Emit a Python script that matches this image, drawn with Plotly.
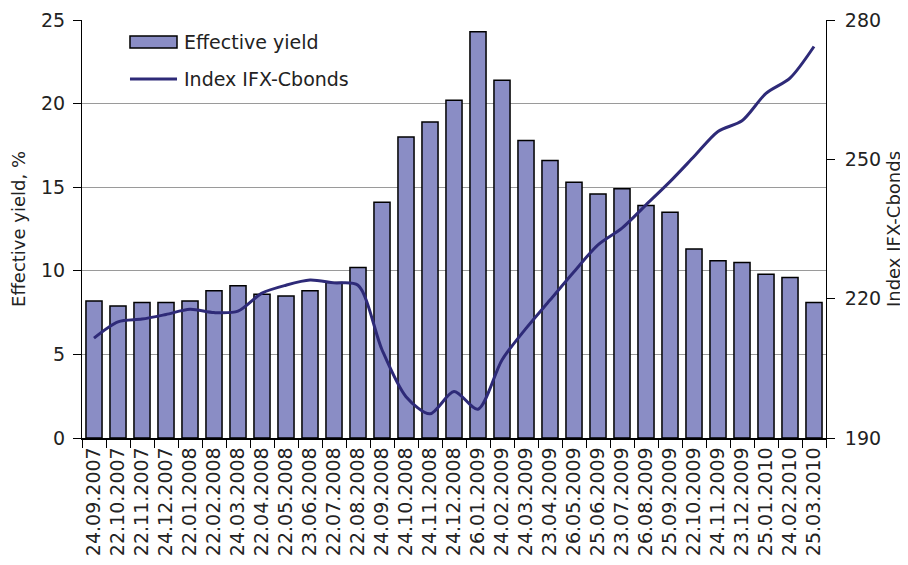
import plotly.graph_objects as go

dates = ["24.09.2007","22.10.2007","22.11.2007","24.12.2007","22.01.2008","22.02.2008",
         "24.03.2008","22.04.2008","22.05.2008","23.06.2008","22.07.2008","22.08.2008",
         "24.09.2008","24.10.2008","24.11.2008","24.12.2008","26.01.2009","24.02.2009",
         "24.03.2009","23.04.2009","26.05.2009","25.06.2009","23.07.2009","26.08.2009",
         "25.09.2009","22.10.2009","24.11.2009","23.12.2009","25.01.2010","24.02.2010",
         "25.03.2010"]
effective_yield = [8.2, 7.9, 8.1, 8.1, 8.2, 8.8, 9.1, 8.6, 8.5, 8.8, 9.3, 10.2,
                   14.1, 18.0, 18.9, 20.2, 24.3, 21.4, 17.8, 16.6, 15.3, 14.6, 14.9, 13.9,
                   13.5, 11.3, 10.6, 10.5, 9.8, 9.6, 8.1]
index_ifx = [211.5, 215.0, 215.6, 216.6, 217.7, 217.0, 217.3, 221.2, 222.9, 224.0, 223.4, 222.9,
             209.0, 198.9, 195.2, 200.0, 196.2, 206.8, 213.6, 219.7, 225.8, 231.6, 235.2, 240.2,
             245.2, 250.6, 256.0, 258.3, 264.2, 267.5, 274.3]
y_ticks = [0, 5, 10, 15, 20, 25]
y2_ticks = [190, 220, 250, 280]

FONT = "DejaVu Sans, sans-serif"
TXT = "#222222"
BAR_FILL = "#8A8DC5"
LINE_COL = "#2E2A78"

fig = go.Figure()
fig.add_trace(go.Bar(
    x=dates, y=effective_yield, name="Effective yield",
    marker=dict(color=BAR_FILL, line=dict(color="#000000", width=1.5)),
))
fig.add_trace(go.Scatter(
    x=dates, y=index_ifx, name="Index IFX-Cbonds", yaxis="y2",
    mode="lines", line=dict(color=LINE_COL, width=3, shape="spline", smoothing=0.8),
))

# manual legend (Excel-style long bar swatch)
fig.add_shape(type="rect", xref="paper", yref="paper",
              x0=0.0645, x1=0.1277, y0=0.933, y1=0.9617,
              fillcolor=BAR_FILL, line=dict(color="#000", width=1.5))
fig.add_shape(type="line", xref="paper", yref="paper",
              x0=0.0645, x1=0.1277, y0=0.8589, y1=0.8589,
              line=dict(color=LINE_COL, width=3))
fig.add_annotation(xref="paper", yref="paper", x=0.1345, y=0.9474, text="Effective yield",
                   showarrow=False, xanchor="left", yanchor="middle",
                   font=dict(family=FONT, size=19, color=TXT))
fig.add_annotation(xref="paper", yref="paper", x=0.1345, y=0.8589, text="Index IFX-Cbonds",
                   showarrow=False, xanchor="left", yanchor="middle",
                   font=dict(family=FONT, size=19, color=TXT))

fig.update_layout(
    width=900, height=557,
    margin=dict(l=74, r=82, t=12, b=127, autoexpand=False),
    paper_bgcolor="white", plot_bgcolor="white",
    font=dict(family=FONT, size=18, color=TXT),
    bargap=0.33,
    showlegend=False,
    xaxis=dict(
        type="category", tickangle=-90, tickfont=dict(size=19),
        ticks="outside", tickson="boundaries", ticklen=8, tickcolor="#000",
        showline=True, linecolor="#000", linewidth=1.5, showgrid=False,
    ),
    yaxis=dict(
        range=[0, 25], tickvals=y_ticks, ticks="outside", ticklen=8, tickcolor="#000",
        showline=True, linecolor="#000", linewidth=1,
        showgrid=True, gridcolor="#9a9a9a", gridwidth=1,
        ticklabelstandoff=4,
        title=dict(text="Effective yield, %", font=dict(size=18), standoff=12),
        tickfont=dict(size=19), zeroline=False,
    ),
    yaxis2=dict(
        range=[190, 280], tickvals=y2_ticks, overlaying="y", side="right",
        ticks="outside", ticklen=8, tickcolor="#000",
        showline=True, linecolor="#000", linewidth=1, showgrid=False,
        ticklabelstandoff=6,
        title=dict(text="Index IFX-Cbonds", font=dict(size=18), standoff=7),
        tickfont=dict(size=19), zeroline=False,
    ),
)

fig.write_html("out.html")
